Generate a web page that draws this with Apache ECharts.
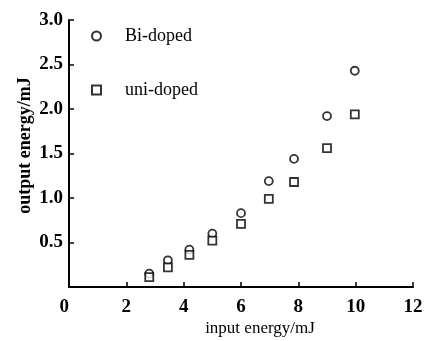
<!DOCTYPE html>
<html>
<head>
<meta charset="utf-8">
<script src="https://cdn.jsdelivr.net/npm/echarts@6/dist/echarts.min.js"></script>
<style>
  html, body { margin: 0; padding: 0; background: #fff; }
  #chart { width: 428px; height: 341px; }
</style>
</head>
<body>
<div id="chart"></div>
<script>
// input energy (mJ)
const inputEnergy = [2.8, 3.45, 4.2, 5.0, 6.0, 6.97, 7.85, 9.0, 9.97];
// output energy (mJ)
const biDoped = [0.15, 0.30, 0.42, 0.60, 0.83, 1.19, 1.44, 1.92, 2.43];
const uniDoped = [0.11, 0.22, 0.36, 0.52, 0.71, 0.99, 1.18, 1.56, 1.94];
const seriesNames = ['Bi-doped', 'uni-doped'];

const serif = '"Liberation Serif", "DejaVu Serif", serif';

const chart = echarts.init(document.getElementById('chart'));

const pairs = (ys) => inputEnergy.map((x, i) => [x, ys[i]]);

const markerStyle = {
  color: '#fff',
  borderColor: '#000',
  borderWidth: 1.8,
};

const option = {
  animation: false,
  backgroundColor: '#fff',
  grid: { left: 69, right: 15, top: 20, bottom: 54, outerBoundsMode: 'none' },
  legend: {
    orient: 'vertical',
    left: 91,
    top: 27,
    padding: 0,
    itemGap: 36,
    itemWidth: 9,
    itemHeight: 9,
    data: [
      { name: seriesNames[0], icon: 'circle' },
      { name: seriesNames[1], icon: 'rect' },
    ],
    textStyle: { fontFamily: serif, fontSize: 18, color: '#000', padding: [0, 0, 0, 19] },
  },
  xAxis: {
    type: 'value',
    min: 0,
    max: 12,
    interval: 2,
    name: 'input energy/mJ',
    nameLocation: 'middle',
    nameGap: 33,
    nameMoveOverlap: false,
    nameTextStyle: { fontFamily: serif, fontSize: 17, color: '#000', padding: [0, 0, 0, 38] },
    axisLine: { lineStyle: { color: '#000', width: 2 } },
    axisTick: { show: true, inside: true, length: 5, lineStyle: { color: '#000', width: 1.5 } },
    axisLabel: {
      fontFamily: serif, fontSize: 19, fontWeight: 'bold', color: '#000', margin: 11,
      alignMinLabel: 'right',
      formatter: (v) => String(v),
    },
    splitLine: { show: false },
  },
  yAxis: {
    type: 'value',
    min: 0,
    max: 3,
    interval: 0.5,
    name: 'output energy/mJ',
    nameLocation: 'middle',
    nameGap: 35,
    nameMoveOverlap: false,
    nameTextStyle: { fontFamily: serif, fontSize: 18, fontWeight: 'bold', color: '#000', padding: [0, 0, 0, 16] },
    axisLine: { lineStyle: { color: '#000', width: 2 } },
    axisTick: { show: true, inside: true, length: 5, lineStyle: { color: '#000', width: 1.5 } },
    axisLabel: {
      fontFamily: serif, fontSize: 19, fontWeight: 'bold', color: '#000', margin: 6,
      formatter: (v) => (v === 0 ? '' : v.toFixed(1)),
    },
    splitLine: { show: false },
  },
  series: [
    {
      name: seriesNames[0],
      type: 'scatter',
      symbol: 'circle',
      symbolSize: 8,
      itemStyle: markerStyle,
      data: pairs(biDoped),
    },
    {
      name: seriesNames[1],
      type: 'scatter',
      symbol: 'rect',
      symbolSize: 8,
      itemStyle: markerStyle,
      data: pairs(uniDoped),
    },
  ],
};

chart.setOption(option);
</script>
</body>
</html>
